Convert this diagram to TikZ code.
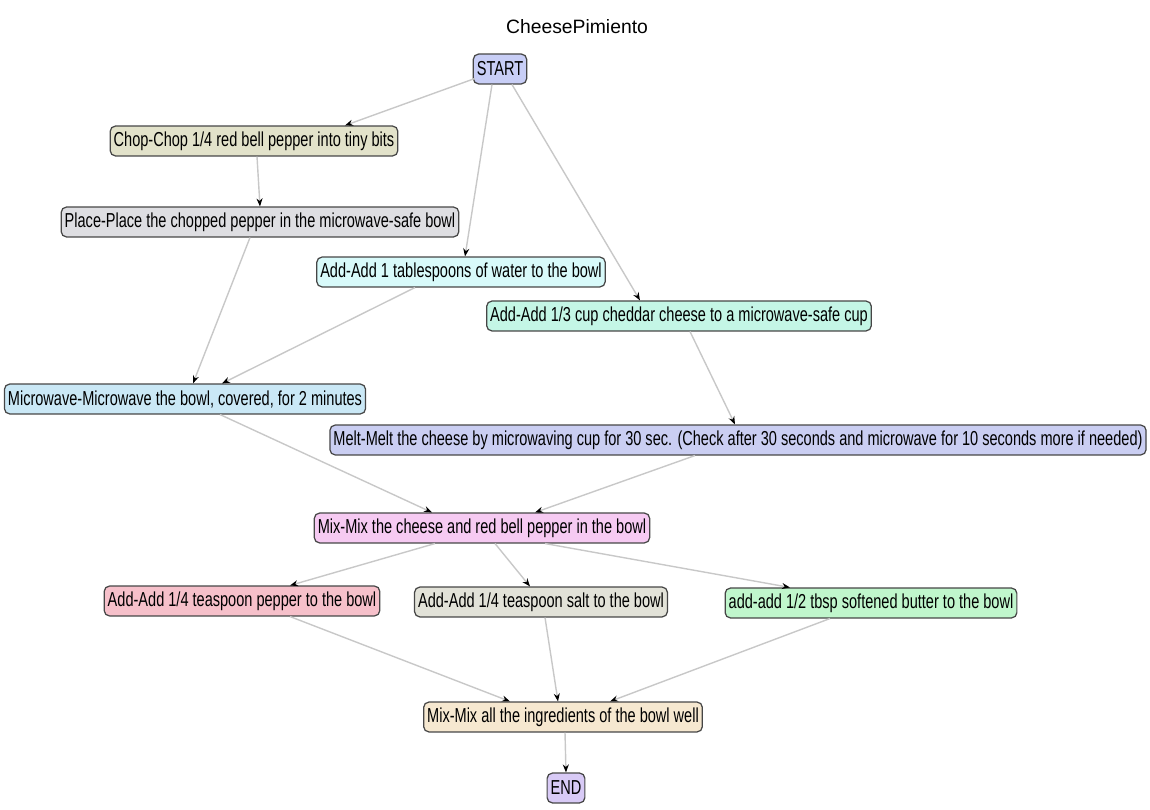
\documentclass[tikz,border=0pt]{standalone}
\usepackage{fontspec}
\setmainfont{Liberation Sans}
\newfontfamily\narrowfont{Liberation Sans}[FakeStretch=0.72]
\usepackage{tikz}
\usetikzlibrary{arrows.meta,positioning,calc}
\definecolor{startc}{RGB}{200,206,246}
\definecolor{chopc}{RGB}{226,226,202}
\definecolor{placec}{RGB}{222,222,226}
\definecolor{waterc}{RGB}{216,250,250}
\definecolor{cheddarc}{RGB}{196,246,230}
\definecolor{microc}{RGB}{202,232,246}
\definecolor{meltc}{RGB}{202,206,242}
\definecolor{mixc}{RGB}{246,202,242}
\definecolor{pepperc}{RGB}{246,192,202}
\definecolor{saltc}{RGB}{226,226,216}
\definecolor{butterc}{RGB}{192,246,204}
\definecolor{mixallc}{RGB}{246,232,208}
\definecolor{endc}{RGB}{216,202,246}
\definecolor{edgec}{RGB}{200,200,200}
\definecolor{borderc}{RGB}{70,70,70}

\begin{document}
\begin{tikzpicture}[x=0.02cm,y=-0.02cm]
      \tikzstyle{n}=[rectangle,rounded corners=3pt,draw=borderc,line width=0.7pt,minimum height=17pt,inner xsep=2pt,inner ysep=1pt,font=\narrowfont\fontsize{11.5}{13}\selectfont]
      \tikzstyle{e}=[draw=edgec,line width=0.8pt,-{Stealth[length=1.6mm,width=1.2mm,color=black]}]
      \useasboundingbox (0,0) rectangle (1150,810);
      \node[font=\fontsize{11}{13}\selectfont] (title) at (577,27) {CheesePimiento};
      \node[n,fill=startc] (start) at (500,69) {START};
      \node[n,fill=chopc] (chop) at (254,141) {Chop-Chop 1/4 red bell pepper into tiny bits};
      \node[n,fill=placec] (place) at (260,222) {Place-Place the chopped pepper in the microwave-safe bowl};
      \node[n,fill=waterc] (water) at (461,272) {Add-Add 1 tablespoons of water to the bowl};
      \node[n,fill=cheddarc] (cheddar) at (679,316) {Add-Add 1/3 cup cheddar cheese to a microwave-safe cup};
      \node[n,fill=microc] (micro) at (185,399) {Microwave-Microwave the bowl, covered, for 2 minutes};
      \node[n,fill=meltc] (melt) at (738,440) {Melt-Melt the cheese by microwaving cup for 30 sec. (Check after 30 seconds and microwave for 10 seconds more if needed)};
      \node[n,fill=mixc] (mix) at (482,528) {Mix-Mix the cheese and red bell pepper in the bowl};
      \node[n,fill=pepperc] (pepper) at (242,601) {Add-Add 1/4 teaspoon pepper to the bowl};
      \node[n,fill=saltc] (salt) at (541,602) {Add-Add 1/4 teaspoon salt to the bowl};
      \node[n,fill=butterc] (butter) at (871,603) {add-add 1/2 tbsp softened butter to the bowl};
      \node[n,fill=mixallc] (mixall) at (563,717) {Mix-Mix all the ingredients of the bowl well};
      \node[n,fill=endc] (end) at (566,788) {END};
      \draw[e] ($(start.south west)+(2,-6)$) -- ($(chop.north)+(91,0)$);
      \draw[e] ($(start.south)+(-8,0)$) -- ($(water.north)+(4,0)$);
      \draw[e] ($(start.south)+(12,0)$) -- ($(cheddar.north)+(-39,0)$);
      \draw[e] ($(chop.south)+(3,0)$) -- (place.north);
      \draw[e] ($(place.south)+(-10,0)$) -- ($(micro.north)+(8,0)$);
      \draw[e] ($(water.south)+(-46,0)$) -- ($(micro.north)+(37,0)$);
      \draw[e] ($(cheddar.south)+(11,0)$) -- ($(melt.north)+(-3,0)$);
      \draw[e] ($(micro.south)+(35,0)$) -- ($(mix.north)+(-50,0)$);
      \draw[e] ($(melt.south)+(-43,0)$) -- ($(mix.north)+(53,0)$);
      \draw[e] ($(mix.south)+(-47,0)$) -- ($(pepper.north)+(48,0)$);
      \draw[e] ($(mix.south)+(13,0)$) -- ($(salt.north)+(-11,0)$);
      \draw[e] ($(mix.south)+(63,0)$) -- ($(butter.north)+(-81,0)$);
      \draw[e] ($(pepper.south)+(48,0)$) -- ($(mixall.north)+(-53,0)$);
      \draw[e] ($(salt.south)+(4,0)$) -- ($(mixall.north)+(-5,0)$);
      \draw[e] ($(butter.south)+(-41,0)$) -- ($(mixall.north)+(47,0)$);
      \draw[e] ($(mixall.south)+(2,0)$) -- (end.north);
    \end{tikzpicture}
\end{document}
